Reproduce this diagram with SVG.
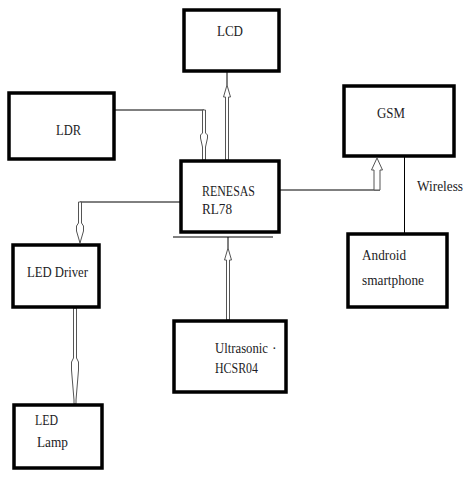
<svg xmlns="http://www.w3.org/2000/svg" width="465" height="481" viewBox="0 0 465 481" font-family="'Liberation Serif', 'DejaVu Serif', serif">
<style>
.box{fill:#fff;stroke:#000;stroke-width:3.5}
.lbl{font-family:'Liberation Serif','DejaVu Serif',serif;font-size:14px;fill:#1c1c24}
.ln{stroke:#000;stroke-width:1;fill:none}
.arr{fill:#fff;stroke:#555;stroke-width:1;stroke-linejoin:miter}
</style>
<rect width="465" height="481" fill="#fff"/>
<g id="connectors">
  <line class="ln" x1="227" y1="72" x2="227" y2="85"/>
  <polygon class="arr" points="227,85 230.5,97 228.5,97 228.5,160 225.5,160 225.5,97 223.5,97"/>
  <polyline class="ln" points="115,110 204,110"/>
  <polygon class="arr" points="202.5,110 205.5,110 205.5,133 207.5,135 207.5,138 205.5,147 205.5,160 202.5,160 202.5,147 200.5,138 200.5,135 202.5,133"/>
  <polyline class="ln" points="180,202 80,202"/>
  <polygon class="arr" points="78.5,202 81.5,202 81.5,223 83.5,226 83.5,231 80,243 76.5,231 76.5,226 78.5,223"/>
  <polygon class="arr" points="73.5,308 76.5,308 76.5,358 78.5,362 78.5,370 76,400 76,404 74,404 74,400 71.5,370 71.5,362 73.5,358"/>
  <line class="ln" x1="173" y1="237" x2="273" y2="237"/>
  <line class="ln" x1="228" y1="237" x2="228" y2="248"/>
  <polygon class="arr" points="228,248 231.5,260 229.5,260 229.5,320 226.5,320 226.5,260 224.5,260"/>
  <polyline class="ln" points="280,190 380,190"/>
  <polygon class="arr" points="377,158 382.5,170 380,170 380,190 374,190 374,170 371.5,170"/>
  <line class="ln" x1="404.5" y1="157" x2="404.5" y2="233"/>
  <text class="lbl" x="417" y="191" textLength="46" lengthAdjust="spacingAndGlyphs">Wireless</text>
</g>
<g id="lcd">
  <rect class="box" x="184" y="10" width="95" height="61"/>
  <text class="lbl" x="217" y="36" textLength="26" lengthAdjust="spacingAndGlyphs">LCD</text>
</g>
<g id="ldr">
  <rect class="box" x="9" y="93" width="105" height="66"/>
  <text class="lbl" x="56" y="135" textLength="25" lengthAdjust="spacingAndGlyphs">LDR</text>
</g>
<g id="renesas">
  <rect class="box" x="181" y="161" width="98" height="71"/>
  <text class="lbl" x="202" y="196" textLength="53" lengthAdjust="spacingAndGlyphs">RENESAS</text>
  <text class="lbl" x="202" y="214" textLength="30" lengthAdjust="spacingAndGlyphs">RL78</text>
</g>
<g id="gsm">
  <rect class="box" x="344" y="86" width="110" height="70"/>
  <text class="lbl" x="377" y="118" textLength="28" lengthAdjust="spacingAndGlyphs">GSM</text>
</g>
<g id="android">
  <rect class="box" x="348" y="234" width="99" height="73"/>
  <text class="lbl" x="362" y="260" textLength="44" lengthAdjust="spacingAndGlyphs">Android</text>
  <text class="lbl" x="362" y="285" textLength="62" lengthAdjust="spacingAndGlyphs">smartphone</text>
</g>
<g id="led-driver">
  <rect class="box" x="13" y="245" width="86" height="62"/>
  <text class="lbl" x="27" y="277" textLength="61" lengthAdjust="spacingAndGlyphs">LED Driver</text>
</g>
<g id="led-lamp">
  <rect class="box" x="14" y="405" width="88" height="63"/>
  <text class="lbl" x="35" y="425" textLength="23" lengthAdjust="spacingAndGlyphs">LED</text>
  <text class="lbl" x="37" y="447" textLength="31" lengthAdjust="spacingAndGlyphs">Lamp</text>
</g>
<g id="ultrasonic">
  <rect class="box" x="174" y="321" width="112" height="71"/>
  <text class="lbl" x="215" y="353" textLength="53" lengthAdjust="spacingAndGlyphs">Ultrasonic</text>
  <text class="lbl" x="272" y="353">·</text>
  <text class="lbl" x="215" y="373" textLength="43" lengthAdjust="spacingAndGlyphs">HCSR04</text>
</g>
</svg>
